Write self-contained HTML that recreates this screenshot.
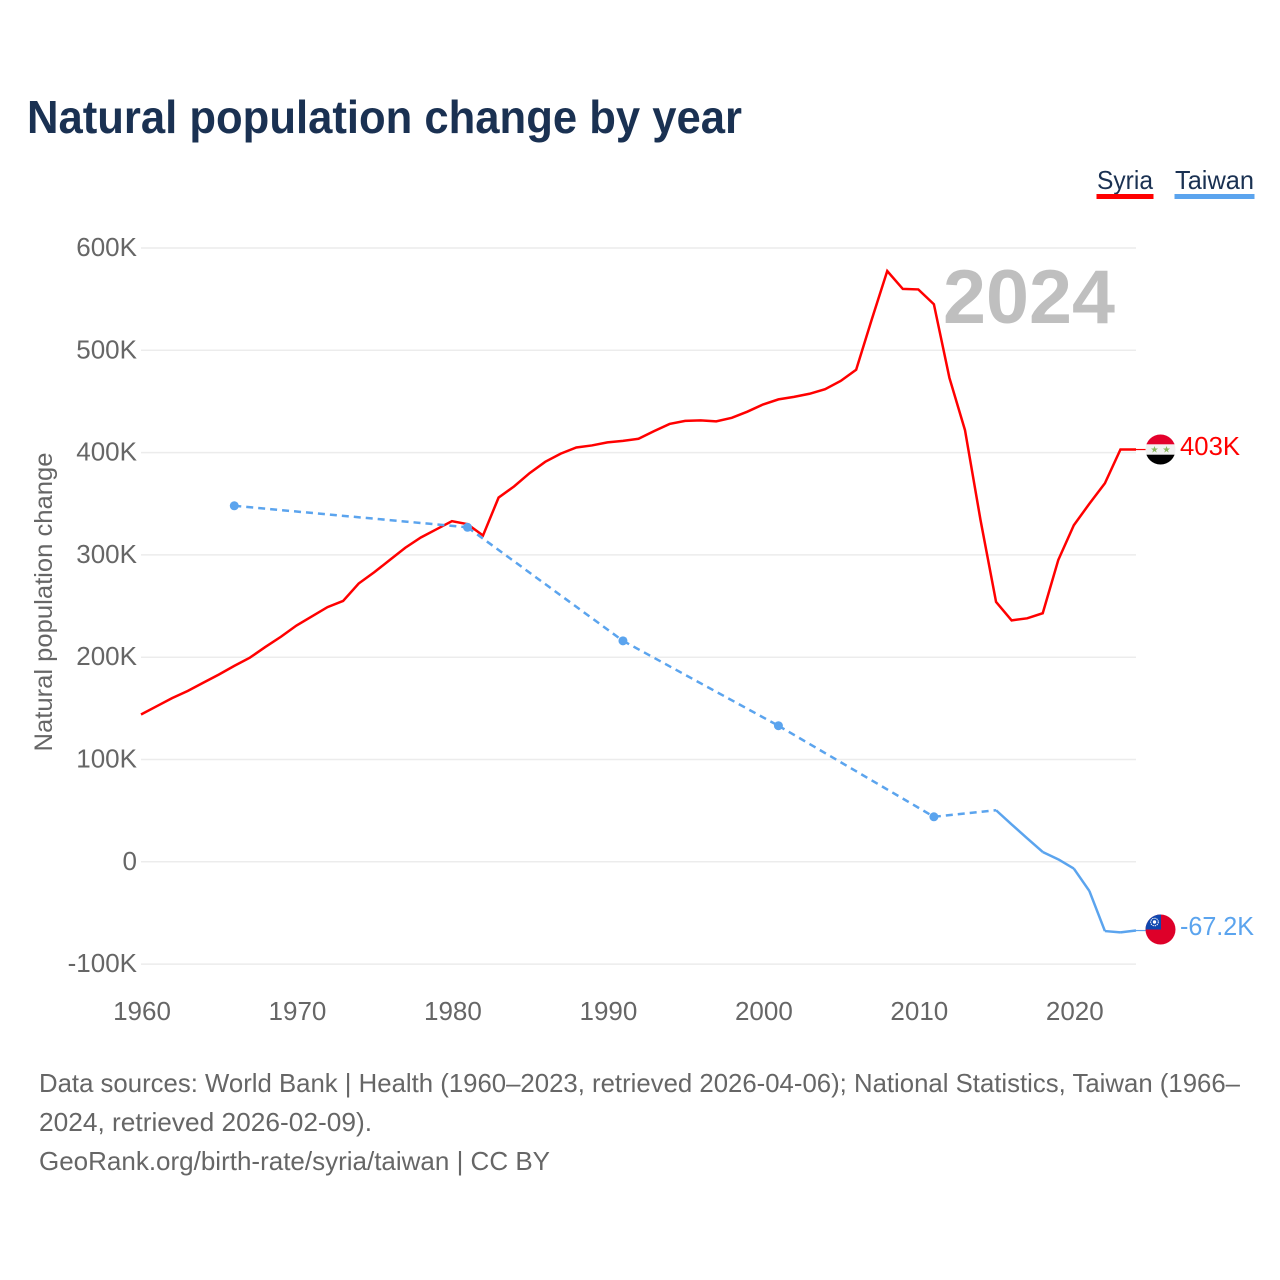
<!DOCTYPE html>
<html lang="en">
<head>
<meta charset="utf-8">
<title>Natural population change by year</title>
<style>
  html, body { margin: 0; padding: 0; background: #ffffff; }
  svg { display: block; font-family: "Liberation Sans", sans-serif; }
</style>
</head>
<body>
<svg id="chart" width="1280" height="1280" viewBox="0 0 1280 1280" xmlns="http://www.w3.org/2000/svg">
  <defs>
    <clipPath id="flag-clip-syria"><circle cx="1160.5" cy="449.5" r="15"></circle></clipPath>
    <clipPath id="flag-clip-taiwan"><circle cx="1160.5" cy="929.5" r="15"></circle></clipPath>
  </defs>
  <rect x="0" y="0" width="1280" height="1280" fill="#ffffff"></rect>
  <text x="27" y="133" font-size="46" font-weight="700" fill="#1a3152" textLength="715" lengthAdjust="spacingAndGlyphs">Natural population change by year</text>

  <g>
    <g>
      <text x="1097" y="189" font-size="26" fill="#1a3152" textLength="56" lengthAdjust="spacingAndGlyphs">Syria</text>
      <rect x="1096.5" y="194" width="57" height="5" fill="#ff0000"></rect>
    </g>
    <g>
      <text x="1175" y="189" font-size="26" fill="#1a3152" textLength="79" lengthAdjust="spacingAndGlyphs">Taiwan</text>
      <rect x="1174.5" y="194" width="80" height="5" fill="#5ba4ee"></rect>
    </g>
  </g>

  <text transform="translate(52 602) rotate(-90)" text-anchor="middle" font-size="25" fill="#666666" textLength="299" lengthAdjust="spacingAndGlyphs">Natural population change</text>

  <g id="grid"></g>
  <g id="y-ticks"></g>
  <g id="x-ticks"></g>

  <text x="943" y="323" font-size="76" font-weight="700" fill="#bfbfbf" textLength="172" lengthAdjust="spacingAndGlyphs">2024</text>

  <g id="series"></g>

  <g clip-path="url(#flag-clip-syria)">
    <rect x="1145" y="434" width="31" height="31" fill="#f2f2f2"></rect>
    <rect x="1145" y="434" width="31" height="10.3" fill="#e4002b"></rect>
    <rect x="1145" y="454.7" width="31" height="10.3" fill="#000000"></rect>
    <polygon points="1154.5,446 1155.4,448.5 1158,448.5 1155.9,450.1 1156.7,452.6 1154.5,451 1152.3,452.6 1153.1,450.1 1151,448.5 1153.6,448.5" fill="#8ab65f"></polygon>
    <polygon points="1166.5,446 1167.4,448.5 1170,448.5 1167.9,450.1 1168.7,452.6 1166.5,451 1164.3,452.6 1165.1,450.1 1163,448.5 1165.6,448.5" fill="#8ab65f"></polygon>
  </g>
  <g clip-path="url(#flag-clip-taiwan)">
    <rect x="1145" y="914" width="31" height="31" fill="#de0029"></rect>
    <rect x="1145" y="914" width="16" height="15.5" fill="#0f47af"></rect>
    <circle cx="1154.5" cy="922" r="3.8" fill="none" stroke="#ffffff" stroke-width="1" stroke-dasharray="1.4 0.8"></circle>
    <circle cx="1154.5" cy="922" r="1.7" fill="#ffffff"></circle>
  </g>

  <text x="1180" y="455" font-size="26" fill="#ff0000" textLength="60" lengthAdjust="spacingAndGlyphs">403K</text>
  <text x="1180" y="935" font-size="26" fill="#5ba4ee" textLength="74" lengthAdjust="spacingAndGlyphs">-67.2K</text>

  <g font-size="26" fill="#666666">
    <text x="39" y="1092" textLength="1201" lengthAdjust="spacingAndGlyphs">Data sources: World Bank | Health (1960–2023, retrieved 2026-04-06); National Statistics, Taiwan (1966–</text>
    <text x="39" y="1131" textLength="333" lengthAdjust="spacingAndGlyphs">2024, retrieved 2026-02-09).</text>
    <text x="39" y="1170" textLength="511" lengthAdjust="spacingAndGlyphs">GeoRank.org/birth-rate/syria/taiwan | CC BY</text>
  </g>
</svg>
<script>
const yTickValues = [600, 500, 400, 300, 200, 100, 0, -100];
const yTickLabels = ["600K", "500K", "400K", "300K", "200K", "100K", "0", "-100K"];
const xTickYears = [1960, 1970, 1980, 1990, 2000, 2010, 2020];
const syriaYears = [1960,1961,1962,1963,1964,1965,1966,1967,1968,1969,1970,1971,1972,1973,1974,1975,1976,1977,1978,1979,1980,1981,1982,1983,1984,1985,1986,1987,1988,1989,1990,1991,1992,1993,1994,1995,1996,1997,1998,1999,2000,2001,2002,2003,2004,2005,2006,2007,2008,2009,2010,2011,2012,2013,2014,2015,2016,2017,2018,2019,2020,2021,2022,2023,2024];
const syriaValues = [144,152,160,167,175,183,191.5,199.5,210,220,231,240,249,255,272,283,295,307,317,325,333,330,319,356,367,380,391,399,405,407,410,411.5,413.5,421,428,431,431.5,430.5,434,440,447,452,454.5,457.5,462,470,481,530,577.5,560,559.5,545,473,422,334,254,236,238,243,295,329,350,370,403,403];
const taiwanYears = [1966,1981,1991,2001,2011,2015,2016,2017,2018,2019,2020,2021,2022,2023,2024];
const taiwanValues = [348,327,216,133,44,50.4,36.5,23,9.6,2.4,-6.6,-28.5,-67.7,-69,-67.2];
const taiwanSurveyYears = [1966,1981,1991,2001,2011];

const NS = "http://www.w3.org/2000/svg";
const plotLeft = 141, plotRight = 1136, yZero = 861.8, pxPerK = 1.023;
const xScale = function (year) { return plotLeft + (year - 1960) * (plotRight - plotLeft) / 64; };
const yScale = function (value) { return yZero - value * pxPerK; };

function make(tag, attrs, parent) {
  const el = document.createElementNS(NS, tag);
  Object.keys(attrs).forEach(function (k) { el.setAttribute(k, attrs[k]); });
  parent.appendChild(el);
  return el;
}

const gridLayer = document.getElementById("grid");
const yLayer = document.getElementById("y-ticks");
const xLayer = document.getElementById("x-ticks");
const seriesLayer = document.getElementById("series");

yTickValues.forEach(function (v, i) {
  const line = make("line", { x1: plotLeft, x2: plotRight, y1: yScale(v), y2: yScale(v), stroke: "#ececec", "stroke-width": 1.5 }, gridLayer);
  
  
  const label = make("text", { x: 137, y: yScale(v) + 8, "text-anchor": "end", "font-size": 26, fill: "#666666" }, yLayer);
  
  
  label.textContent = yTickLabels[i];
});

xTickYears.forEach(function (year) {
  const label = make("text", { x: xScale(year) + 1, y: 1020, "text-anchor": "middle", "font-size": 26, fill: "#666666" }, xLayer);
  
  
  label.textContent = String(year);
});

const syriaPath = syriaYears.map(function (year, i) {
  return (i ? "L" : "M") + xScale(year).toFixed(2) + " " + yScale(syriaValues[i]).toFixed(2);
}).join(" ");
const syriaLine = make("path", { d: syriaPath, fill: "none", stroke: "#ff0000", "stroke-width": 2.5, "stroke-linejoin": "miter" }, seriesLayer);



const syriaLast = syriaValues[syriaValues.length - 1];
const syriaConnector = make("line", { x1: plotRight, x2: 1146, y1: yScale(syriaLast), y2: yScale(syriaLast), stroke: "#ff0000", "stroke-width": 1.2 }, seriesLayer);



let dashedPath = "", solidPath = "";
for (let i = 1; i < taiwanYears.length; i++) {
  const seg = "M" + xScale(taiwanYears[i - 1]).toFixed(2) + " " + yScale(taiwanValues[i - 1]).toFixed(2) +
              " L" + xScale(taiwanYears[i]).toFixed(2) + " " + yScale(taiwanValues[i]).toFixed(2) + " ";
  if (taiwanYears[i] - taiwanYears[i - 1] > 1) { dashedPath += seg; } else { solidPath += seg; }
}
const taiwanDashed = make("path", { d: dashedPath, fill: "none", stroke: "#5ba4ee", "stroke-width": 2.5, "stroke-dasharray": "7 5" }, seriesLayer);


const taiwanSolid = make("path", { d: solidPath, fill: "none", stroke: "#5ba4ee", "stroke-width": 2.5 }, seriesLayer);



taiwanSurveyYears.forEach(function (year) {
  const value = taiwanValues[taiwanYears.indexOf(year)];
  const dot = make("circle", { cx: xScale(year), cy: yScale(value), r: 4.5, fill: "#5ba4ee" }, seriesLayer);
  
  
});

const taiwanLast = taiwanValues[taiwanValues.length - 1];
const taiwanConnector = make("line", { x1: plotRight, x2: 1146, y1: yScale(taiwanLast), y2: yScale(taiwanLast), stroke: "#5ba4ee", "stroke-width": 1.2 }, seriesLayer);


</script>
</body>
</html>
